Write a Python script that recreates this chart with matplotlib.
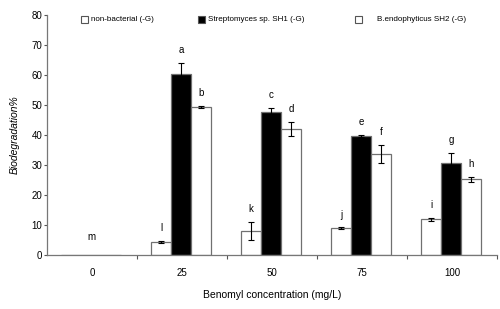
import matplotlib.pyplot as plt
from matplotlib.patches import Rectangle
import numpy as np

plt.rcParams['font.family'] = ['Liberation Sans', 'DejaVu Sans']

concentrations = ['0', '25', '50', '75', '100']
series_names = ['non-bacterial (-G)', 'Streptomyces sp. SH1 (-G)', 'B.endophyticus SH2 (-G)']

non_bacterial = [0.0, 4.4, 7.9, 8.9, 11.9]
non_bacterial_err = [0.0, 0.3, 3.0, 0.3, 0.4]
strepto = [0.0, 60.2, 47.8, 39.7, 30.8]
strepto_err = [0.0, 3.8, 1.1, 0.3, 3.2]
bendo = [0.0, 49.3, 42.1, 33.6, 25.2]
bendo_err = [0.0, 0.4, 2.3, 3.0, 0.7]

letters_nb = ['', 'l', 'k', 'j', 'i']
letters_st = ['m', 'a', 'c', 'e', 'g']
letters_be = ['', 'b', 'd', 'f', 'h']

fig = plt.figure(figsize=(5, 3.09), dpi=100)
ax = fig.add_axes((47 / 500, 54 / 309, 450 / 500, 240 / 309))

x = np.arange(len(concentrations))
w = 0.222
edge = '#707070'
series = [
    (non_bacterial, non_bacterial_err, 'white', letters_nb, -w),
    (strepto, strepto_err, 'black', letters_st, 0.0),
    (bendo, bendo_err, 'white', letters_be, w),
]
for vals, errs, fc, letters, off in series:
    pos = x - 0.01 + off
    ax.bar(pos, vals, width=w, color=fc, edgecolor=edge, linewidth=0.9, zorder=2)
    ax.errorbar(pos[1:], vals[1:], yerr=errs[1:], fmt='none', ecolor='black',
                elinewidth=0.8, capsize=2.2, capthick=0.8, zorder=3)
    for p, v, e, t in zip(pos, vals, errs, letters):
        if t:
            # the letter over an empty group sits a little higher
            ax.text(p, v + e + (6 if v == 0 else 4.3), t, ha='center',
                    va='center', fontsize=7)

ax.set_xlim(-0.5, 4.5)
ax.set_ylim(0, 80)
ax.set_yticks(range(0, 81, 10))
ax.set_xticks(np.arange(0.5, 5, 1))
ax.set_xticklabels([])
ax.set_xticks(x, minor=True)
ax.set_xticklabels(concentrations, minor=True)
ax.tick_params(axis='x', which='minor', length=0, pad=9, labelsize=7)
ax.tick_params(axis='x', which='major', length=3, width=0.8, color='#555555')
ax.tick_params(axis='y', length=2.5, width=0.8, pad=1, labelsize=7, color='#555555')

for s in ['top', 'right']:
    ax.spines[s].set_visible(False)
for s in ['left', 'bottom']:
    ax.spines[s].set_color('#777777')
    ax.spines[s].set_linewidth(0.9)

ax.set_xlabel('Benomyl concentration (mg/L)', fontsize=7.5, labelpad=9)
ax.set_ylabel('Biodegradation%', fontsize=7.5, style='italic', labelpad=8)

# legend laid out by hand
legend_items = [
    (81 / 500, 'white', 91 / 500),
    (198 / 500, 'black', 208 / 500),
    (355 / 500, 'white', 377 / 500),
]
for (mx, fc, tx), name in zip(legend_items, series_names):
    fig.patches.append(Rectangle((mx, 286 / 309), 7 / 500, 7 / 309,
                                 transform=fig.transFigure, facecolor=fc,
                                 edgecolor='#555555', linewidth=0.8))
    fig.text(tx, 289.5 / 309, name, fontsize=5.8, va='center', ha='left')

fig.savefig('out.png', dpi=100)
